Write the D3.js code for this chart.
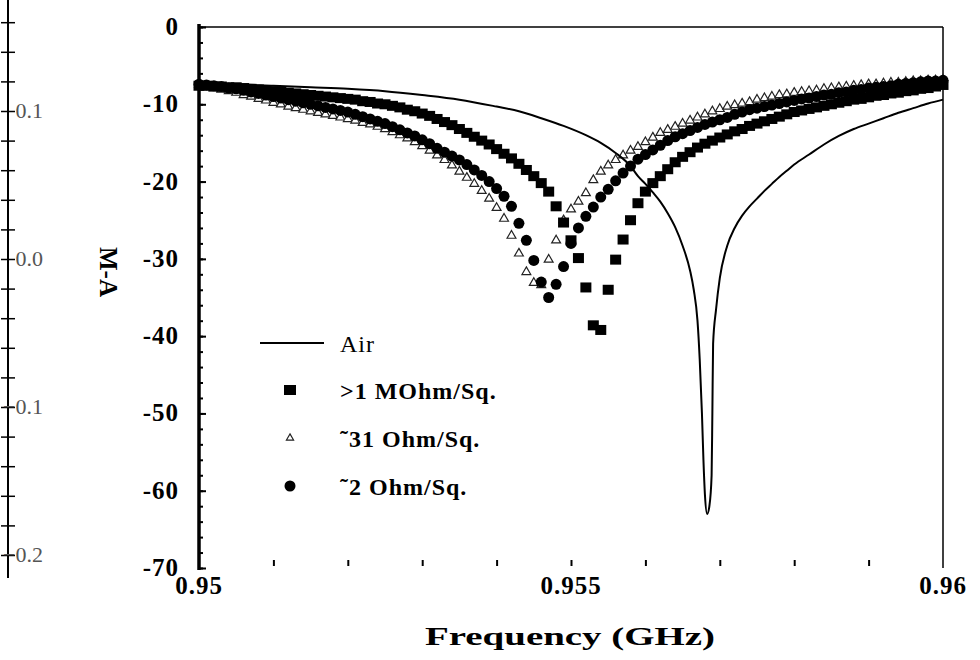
<!DOCTYPE html>
<html>
<head>
<meta charset="utf-8">
<script src="https://d3js.org/d3.v7.min.js"></script>
<style>
body { margin: 0; background: #fff; }
svg text { font-family: "Liberation Serif", "Times New Roman", Times, serif; }
</style>
</head>
<body>
<div id="chart"></div>
<script>
// sweep of the coated samples: one reading every 0.1 MHz from 0.95 GHz
var sweepStart = 0.95, sweepStep = 0.0001;

// >1 MOhm/Sq. (filled squares), dB
var mohmDb = [-7.6,-7.6,-7.7,-7.7,-7.8,-7.8,-7.9,-8.0,-8.1,-8.2,
    -8.3,-8.4,-8.5,-8.6,-8.7,-8.8,-8.9,-9.0,-9.1,-9.2,
    -9.3,-9.4,-9.6,-9.7,-9.9,-10.0,-10.2,-10.4,-10.7,-10.9,
    -11.2,-11.5,-11.9,-12.3,-12.7,-13.2,-13.7,-14.2,-14.7,-15.2,
    -15.8,-16.4,-17.0,-17.7,-18.5,-19.3,-20.2,-21.3,-23.2,-25.3,
    -27.6,-29.9,-33.7,-38.6,-39.2,-34.0,-30.1,-27.5,-25.0,-22.8,
    -21.3,-20.2,-19.3,-18.4,-17.5,-16.8,-16.2,-15.6,-15.1,-14.7,
    -14.3,-13.9,-13.5,-13.2,-12.8,-12.5,-12.2,-11.9,-11.6,-11.3,
    -11.0,-10.8,-10.6,-10.4,-10.2,-10.0,-9.8,-9.6,-9.4,-9.3,
    -9.1,-8.9,-8.8,-8.6,-8.5,-8.3,-8.2,-8.0,-7.9,-7.7,-7.5];

// ~31 Ohm/Sq. (open triangles), dB
var ohm31Db = [-7.5,-7.7,-7.9,-8.1,-8.3,-8.5,-8.8,-9.0,-9.3,-9.5,
    -9.8,-10.0,-10.3,-10.5,-10.7,-10.9,-11.1,-11.3,-11.5,-11.7,
    -11.9,-12.1,-12.4,-12.6,-12.9,-13.2,-13.6,-14.0,-14.4,-14.9,
    -15.4,-16.0,-16.6,-17.2,-17.9,-18.7,-19.5,-20.3,-21.2,-22.2,
    -23.4,-24.8,-27.0,-29.3,-31.7,-33.1,-33.4,-30.1,-27.6,-25.0,
    -23.6,-22.6,-21.5,-19.8,-18.7,-17.9,-17.2,-16.6,-16.0,-15.5,
    -14.9,-14.3,-13.7,-13.3,-12.9,-12.5,-12.1,-11.7,-11.3,-10.9,
    -10.6,-10.3,-10.1,-9.9,-9.7,-9.4,-9.2,-9.0,-8.8,-8.7,
    -8.5,-8.4,-8.3,-8.2,-8.0,-7.9,-7.8,-7.7,-7.6,-7.5,
    -7.4,-7.4,-7.3,-7.2,-7.2,-7.1,-7.0,-7.0,-6.9,-6.9,-6.8];

// ~2 Ohm/Sq. (filled circles), dB
var ohm2Db = [-7.4,-7.5,-7.6,-7.7,-7.9,-8.0,-8.2,-8.4,-8.6,-8.8,
    -9.0,-9.2,-9.4,-9.6,-9.8,-10.0,-10.2,-10.4,-10.6,-10.8,
    -11.0,-11.3,-11.6,-11.9,-12.2,-12.5,-12.9,-13.3,-13.7,-14.1,
    -14.6,-15.1,-15.7,-16.2,-16.7,-17.2,-17.8,-18.5,-19.2,-20.0,
    -20.9,-21.9,-23.2,-25.4,-27.6,-30.2,-33.0,-35.0,-33.3,-31.0,
    -28.0,-26.0,-24.5,-23.3,-22.0,-21.0,-19.9,-18.9,-18.0,-17.1,
    -16.5,-15.9,-15.3,-14.7,-14.2,-13.8,-13.4,-13.0,-12.6,-12.3,
    -12.0,-11.7,-11.3,-11.0,-10.7,-10.5,-10.3,-10.1,-9.9,-9.7,
    -9.5,-9.3,-9.2,-9.0,-8.8,-8.7,-8.5,-8.4,-8.2,-8.1,
    -7.9,-7.8,-7.7,-7.6,-7.4,-7.3,-7.2,-7.1,-7.0,-7.0,-6.9];

// Air (solid line)
var airFreq = [0.9500,0.9505,0.9510,0.9515,0.9520,0.9525,0.9530,0.9535,0.9540,0.9543,
    0.9546,0.9549,0.9552,0.9554,0.9556,0.9558,0.9559,0.9560,0.9561,0.9562,
    0.9563,0.9564,0.9565,0.9566,0.95665,0.9567,0.95673,0.95676,0.95678,0.9568,
    0.95683,0.95686,0.95689,0.9569,0.95691,0.95695,0.9570,0.9571,0.9572,0.9573,
    0.9574,0.9575,0.9576,0.9577,0.9578,0.9579,0.9580,0.9582,0.9584,0.9586,
    0.9588,0.9590,0.9592,0.9594,0.9596,0.9598,0.9600];
var airDb = [-7.3,-7.4,-7.6,-7.8,-8.0,-8.3,-8.8,-9.4,-10.3,-10.9,
    -11.8,-12.8,-14.0,-15.0,-16.3,-18.0,-19.3,-20.3,-21.4,-22.6,
    -24.1,-25.9,-28.3,-31.5,-34.0,-38.0,-43.0,-50.0,-56.0,-60.5,
    -63.0,-62.0,-58.0,-50.0,-41.0,-36.5,-32.5,-28.3,-26.0,-24.4,
    -23.2,-22.2,-21.2,-20.3,-19.4,-18.6,-17.8,-16.5,-15.2,-14.1,
    -13.2,-12.5,-11.8,-11.1,-10.5,-9.9,-9.4];

var xTicks = [0.95, 0.955, 0.96];
var yTicks = [0, -10, -20, -30, -40, -50, -60, -70];
var sideTicks = [0.1, 0.0, -0.1, -0.2];   // axis of the neighbouring panel
var legendLabels = ["Air", ">1 MOhm/Sq.", "\u02DC31 Ohm/Sq.", "\u02DC2 Ohm/Sq."];

var width = 980, height = 660;
var serif = "'Liberation Serif', 'Times New Roman', Times, serif";

var svg = d3.select("#chart").append("svg")
    .attr("width", width)
    .attr("height", height);

var x = d3.scaleLinear().domain([0.95, 0.96]).range([199, 943]);
var y = d3.scaleLinear().domain([0, -70]).range([27, 568]);
var side = d3.scaleLinear().domain([0.1, -0.2]).range([111, 555]);

var freqAt = function(i) { return sweepStart + i * sweepStep; };

// ---- left edge: cut off axis of the other panel
var sideAxis = d3.axisRight(side)
    .tickValues(d3.range(0.16, -0.2101, -0.02))
    .tickSize(7)
    .tickFormat("");
var sg = svg.append("g").attr("transform", "translate(8,0)").call(sideAxis);
sg.select(".domain").remove();
sg.selectAll(".tick line").attr("x1", -7).attr("stroke", "#000").attr("stroke-width", 1.5);
svg.append("line").attr("x1", 8).attr("x2", 8).attr("y1", 0).attr("y2", 578)
    .attr("stroke", "#000").attr("stroke-width", 2);
svg.append("g").selectAll("text").data(sideTicks).enter().append("text")
    .attr("x", 43).attr("y", d => side(d) + 7)
    .attr("text-anchor", "end")
    .attr("font-family", serif)
    .attr("font-size", 22)
    .attr("fill", "#555")
    .text(d => d3.format(".1f")(d));

// ---- frame
svg.append("line").attr("x1", x(0.95)).attr("x2", x(0.96)).attr("y1", y(0)).attr("y2", y(0))
    .attr("stroke", "#000").attr("stroke-width", 1.5);
svg.append("line").attr("x1", x(0.96)).attr("x2", x(0.96)).attr("y1", y(0)).attr("y2", y(-70))
    .attr("stroke", "#000").attr("stroke-width", 1.5);

// y axis, ticks pointing inside
var yMinor = d3.axisRight(y).tickValues(d3.range(0, -70.1, -2)).tickSize(4).tickFormat("");
var ym = svg.append("g").attr("transform", "translate(" + x(0.95) + ",0)").call(yMinor);
ym.select(".domain").remove();
ym.selectAll(".tick line").attr("stroke-width", 2);
var yMajor = d3.axisRight(y).tickValues(yTicks).tickSize(7).tickFormat("");
var yM = svg.append("g").attr("transform", "translate(" + x(0.95) + ",0)").call(yMajor);
yM.select(".domain").remove();
yM.selectAll(".tick line").attr("stroke-width", 2);
svg.append("line").attr("x1", x(0.95)).attr("x2", x(0.95)).attr("y1", y(0) - 3).attr("y2", y(-70) + 2)
    .attr("stroke", "#000").attr("stroke-width", 3.5);

svg.append("g").selectAll("text").data(yTicks).enter().append("text")
    .attr("x", 179).attr("y", d => y(d) + 8)
    .attr("text-anchor", "end")
    .attr("font-family", serif)
    .attr("font-size", 25).attr("font-weight", "bold")
    .attr("letter-spacing", 1)
    .text(d => d);

// x axis: ticks only (no base line visible)
var xAxis = d3.axisTop(x).tickValues(d3.range(0.951, 0.95951, 0.001)).tickSize(6).tickFormat("");
var xg = svg.append("g").attr("transform", "translate(0," + (y(-70) - 2) + ")").call(xAxis);
xg.select(".domain").remove();
xg.selectAll(".tick line").attr("stroke-width", 2);

svg.append("g").selectAll("text").data(xTicks).enter().append("text")
    .attr("x", d => x(d)).attr("y", 594)
    .attr("text-anchor", "middle")
    .attr("font-family", serif)
    .attr("font-size", 25).attr("font-weight", "bold")
    .attr("letter-spacing", 1)
    .text(d => d);

svg.append("text")
    .attr("x", 570).attr("y", 645)
    .attr("text-anchor", "middle")
    .attr("font-family", serif)
    .attr("font-size", 26).attr("font-weight", "bold")
    .attr("textLength", 290).attr("lengthAdjust", "spacingAndGlyphs")
    .text("Frequency (GHz)");

svg.append("text")
    .attr("transform", "translate(100,272) rotate(90)")
    .attr("text-anchor", "middle")
    .attr("font-family", serif)
    .attr("font-size", 25).attr("font-weight", "bold")
    .text("M-A");

// ---- data
var tri = d3.symbol().type(d3.symbolTriangle).size(34);

svg.append("g").selectAll("path").data(ohm31Db).enter().append("path")
    .attr("d", tri)
    .attr("transform", (d, i) => "translate(" + x(freqAt(i)) + "," + y(d) + ")")
    .attr("fill", "#fff").attr("stroke", "#222").attr("stroke-width", 1.2);

svg.append("g").selectAll("circle").data(ohm2Db).enter().append("circle")
    .attr("cx", (d, i) => x(freqAt(i)))
    .attr("cy", d => y(d))
    .attr("r", 5.5)
    .attr("fill", "#000");

svg.append("g").selectAll("rect").data(mohmDb).enter().append("rect")
    .attr("x", (d, i) => x(freqAt(i)) - 5.5)
    .attr("y", d => y(d) - 5)
    .attr("width", 11).attr("height", 10)
    .attr("fill", "#000");

var airLine = d3.line()
    .x((d, i) => x(airFreq[i]))
    .y(d => y(d))
    .curve(d3.curveMonotoneX);
svg.append("path").datum(airDb)
    .attr("d", airLine)
    .attr("fill", "none").attr("stroke", "#000").attr("stroke-width", 2);

// ---- legend
var lg = svg.append("g");
var legendY = [343, 390, 438, 486];
lg.append("line").attr("x1", 260).attr("x2", 324).attr("y1", legendY[0]).attr("y2", legendY[0])
    .attr("stroke", "#000").attr("stroke-width", 2);
lg.append("rect").attr("x", 284).attr("y", legendY[1] - 5).attr("width", 12).attr("height", 10).attr("fill", "#000");
lg.append("path").attr("d", d3.symbol().type(d3.symbolTriangle).size(22))
    .attr("transform", "translate(290," + legendY[2] + ")")
    .attr("fill", "#fff").attr("stroke", "#222").attr("stroke-width", 1.2);
lg.append("circle").attr("cx", 290).attr("cy", legendY[3]).attr("r", 5.5).attr("fill", "#000");
lg.selectAll("text").data(legendLabels).enter().append("text")
    .attr("x", 340).attr("y", (d, i) => legendY[i] + 9)
    .attr("font-family", serif)
    .attr("font-size", 24).attr("font-weight", (d, i) => i == 0 ? "normal" : "bold")
    .attr("letter-spacing", 1)
    .text(d => d);
</script>
</body>
</html>
